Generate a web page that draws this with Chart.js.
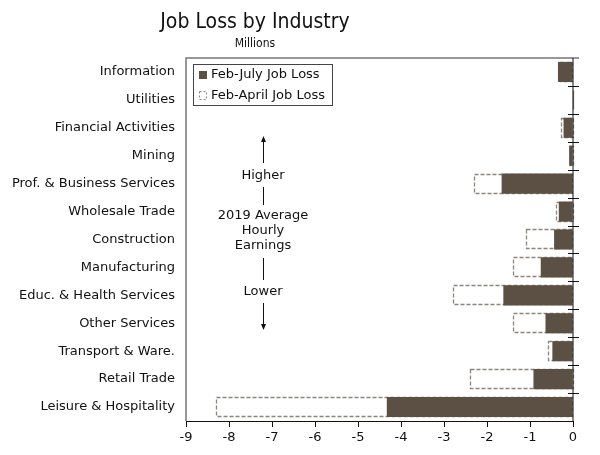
<!DOCTYPE html>
<html>
<head>
<meta charset="utf-8">
<script src="https://cdn.jsdelivr.net/npm/chart.js@4/dist/chart.umd.min.js"></script>
<style>
  html, body { margin: 0; padding: 0; background: #fff; }
  #wrap { width: 600px; height: 455px; }
</style>
</head>
<body>
<div id="wrap"><canvas id="jobChart"></canvas></div>
<script>
// industries, top to bottom
const industries = [
    'Information', 'Utilities', 'Financial Activities', 'Mining',
    'Prof. & Business Services', 'Wholesale Trade', 'Construction',
    'Manufacturing', 'Educ. & Health Services', 'Other Services',
    'Transport & Ware.', 'Retail Trade', 'Leisure & Hospitality'
];
// job loss in millions
const febJuly  = [-0.35, -0.01, -0.22, -0.09, -1.66, -0.33, -0.44, -0.75, -1.62, -0.64, -0.48, -0.92, -4.33];
const febApril = [-0.30, -0.01, -0.28, -0.08, -2.30, -0.40, -1.09, -1.39, -2.78, -1.39, -0.57, -2.40, -8.30];
const xTicks = [-9, -8, -7, -6, -5, -4, -3, -2, -1, 0];

const FONT = '"DejaVu Sans", Verdana, sans-serif';
const TITLE_FONT = '"DejaVu Sans Condensed", "DejaVu Sans", sans-serif';
const BROWN = '#5c5044';
const DASH = '#8c857e';

// dashed outline for the Feb-April bars (bar elements can't dash their border)
const dashedBars = {
    id: 'dashedBars',
    afterDatasetDraw(chart, args) {
        if (args.index !== 1) return;
        const { ctx } = chart;
        ctx.save();
        ctx.strokeStyle = DASH;
        ctx.lineWidth = 1.3;
        ctx.setLineDash([4, 2]);
        args.meta.data.forEach(bar => {
            const p = bar.getProps(['x', 'y', 'base', 'height'], true);
            const left = Math.min(p.x, p.base), right = Math.max(p.x, p.base);
            ctx.strokeRect(Math.round(left) + 0.5, Math.round(p.y - p.height / 2) + 0.5,
                Math.round(right - left), Math.round(p.height) - 1);
        });
        ctx.restore();
    }
};

// title, legend, annotation and axis frame
const decorPlugin = {
    id: 'decor',
    beforeDatasetsDraw(chart) {
        const { ctx, chartArea: a } = chart;
        ctx.save();
        ctx.strokeStyle = '#777';
        ctx.lineWidth = 1.5;
        ctx.beginPath();
        ctx.moveTo(a.left, a.bottom);
        ctx.lineTo(a.left, a.top);
        ctx.lineTo(a.right + 6, a.top);
        ctx.stroke();
        ctx.restore();
    },
    afterDraw(chart) {
        const { ctx, chartArea: a, scales } = chart;
        const y = scales.y;
        ctx.save();
        // right axis line at zero with crosses between categories
        const x0 = scales.x.getPixelForValue(0);
        ctx.strokeStyle = '#111';
        ctx.lineWidth = 1;
        ctx.beginPath();
        ctx.moveTo(x0, a.top);
        ctx.lineTo(x0, a.bottom);
        for (let i = 1; i < industries.length; i++) {
            const yy = Math.round((y.getPixelForValue(i - 1) + y.getPixelForValue(i)) / 2) + 0.5;
            ctx.moveTo(x0 - 5, yy);
            ctx.lineTo(x0 + 6, yy);
        }
        ctx.stroke();

        // title
        ctx.fillStyle = '#111';
        ctx.textAlign = 'center';
        ctx.textBaseline = 'middle';
        ctx.font = '21px ' + TITLE_FONT;
        ctx.fillText('Job Loss by Industry', 255, 23);
        ctx.font = '12px ' + TITLE_FONT;
        ctx.fillText('Millions', 255, 44);

        // legend
        ctx.strokeStyle = '#444';
        ctx.lineWidth = 1;
        ctx.strokeRect(193.5, 64.5, 139, 41);
        ctx.font = '13px ' + FONT;
        ctx.textAlign = 'left';
        ctx.fillStyle = BROWN;
        ctx.fillRect(199, 71, 8, 8);
        ctx.setLineDash([2, 2]);
        ctx.strokeStyle = DASH;
        ctx.strokeRect(199.5, 91.5, 7, 8);
        ctx.setLineDash([]);
        ctx.fillStyle = '#111';
        ctx.fillText(chart.data.datasets[0].label, 211, 75);
        ctx.fillText(chart.data.datasets[1].label, 211, 96);

        // earnings annotation
        ctx.textAlign = 'center';
        ctx.font = '13px ' + FONT;
        ctx.fillText('Higher', 263, 176);
        ctx.fillText('2019 Average', 263, 216);
        ctx.fillText('Hourly', 263, 231);
        ctx.fillText('Earnings', 263, 246);
        ctx.fillText('Lower', 263, 292);
        ctx.strokeStyle = '#111';
        ctx.beginPath();
        ctx.moveTo(263.5, 141); ctx.lineTo(263.5, 163);
        ctx.moveTo(263.5, 187); ctx.lineTo(263.5, 205);
        ctx.moveTo(263.5, 258); ctx.lineTo(263.5, 280);
        ctx.moveTo(263.5, 303); ctx.lineTo(263.5, 325);
        ctx.stroke();
        ctx.fillStyle = '#111';
        ctx.beginPath();
        ctx.moveTo(263.5, 136); ctx.lineTo(261, 142); ctx.lineTo(266, 142); ctx.closePath();
        ctx.moveTo(263.5, 330); ctx.lineTo(261, 324); ctx.lineTo(266, 324); ctx.closePath();
        ctx.fill();
        ctx.restore();
    }
};

new Chart(document.getElementById('jobChart'), {
    type: 'bar',
    data: {
        labels: industries,
        datasets: [
            {
                label: 'Feb-July Job Loss',
                data: febJuly,
                backgroundColor: BROWN,
                borderWidth: 0,
                grouped: false,
                categoryPercentage: 1,
                barPercentage: 0.72
            },
            {
                label: 'Feb-April Job Loss',
                data: febApril,
                backgroundColor: '#fff',
                borderWidth: 0,
                grouped: false,
                categoryPercentage: 1,
                barPercentage: 0.72
            }
        ]
    },
    options: {
        indexAxis: 'y',
        responsive: true,
        maintainAspectRatio: false,
        animation: false,
        layout: { padding: { top: 58, right: 27, bottom: 0, left: 0 } },
        plugins: {
            legend: { display: false },
            tooltip: { enabled: false }
        },
        scales: {
            x: {
                min: -9,
                max: 0,
                afterBuildTicks: scale => { scale.ticks = xTicks.map(v => ({ value: v })); },
                afterFit: scale => { scale.height = 34; },
                border: { display: true, color: '#111', width: 1 },
                grid: { drawOnChartArea: false, drawTicks: true, tickLength: 6, color: '#111' },
                ticks: { color: '#111', font: { family: FONT, size: 13 }, padding: 3, maxRotation: 0 }
            },
            y: {
                afterFit: scale => { scale.width = 186; },
                border: { display: false },
                grid: { display: false },
                ticks: { color: '#111', font: { family: FONT, size: 13 }, padding: 3 }
            }
        }
    },
    plugins: [dashedBars, decorPlugin]
});
</script>
</body>
</html>
